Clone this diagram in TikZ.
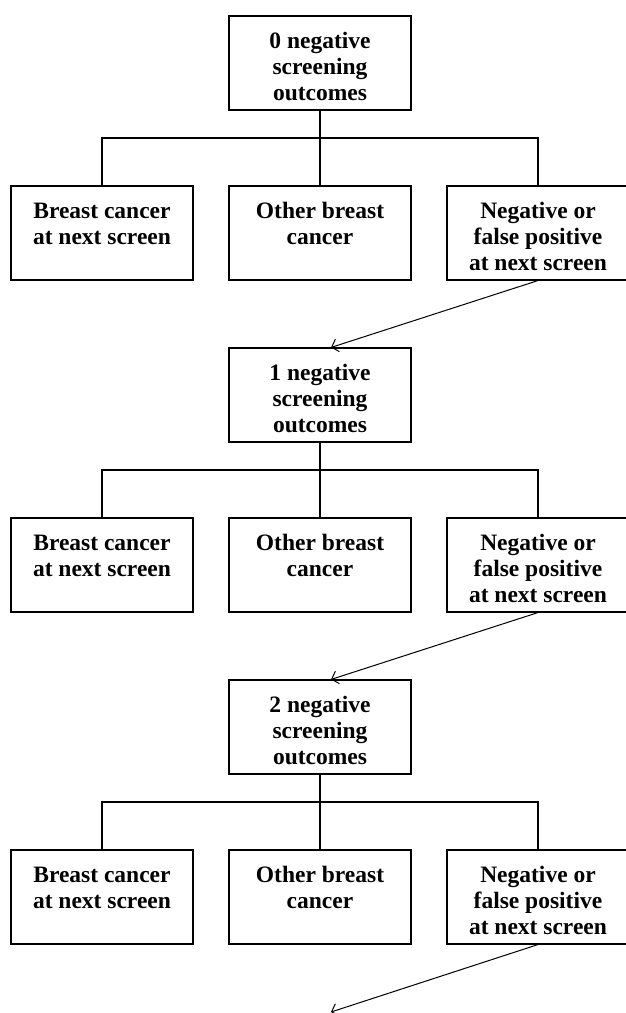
\documentclass[tikz,border=0pt]{standalone}
\usepackage{fontspec}
\setmainfont{Liberation Serif}
\usetikzlibrary{arrows.meta}
\newcommand{\boxtext}[1]{\parbox[c][94pt][t]{180pt}{\centering\rule{0pt}{32pt}#1}}

\begin{document}
\begin{tikzpicture}[
  x=1pt,
  y=-1pt,
  stage/.style={rectangle,draw=black,line width=1.1pt,minimum width=182pt,minimum height=94pt,inner sep=0pt,font=\fontsize{23.5}{26}\selectfont\bfseries},
  link/.style={draw=black,line width=1.1pt},
  next/.style={-{Straight Barb[length=6pt,width=13pt]},draw=black,line width=1pt}
]
  \useasboundingbox (0,0) rectangle (626,1013);
  \foreach \k in {0,1,2} {
    \pgfmathsetmacro{\dy}{332*\k}
    \node[stage] (n\k) at (320,63+\dy) {\boxtext{\k{} negative\\screening\\outcomes}};
    \coordinate (j\k) at (320,138+\dy);
    \node[stage] (a\k) at (102,233+\dy) {\boxtext{Breast cancer\\at next screen}};
    \node[stage] (b\k) at (320,233+\dy) {\boxtext{Other breast\\cancer}};
    \node[stage] (c\k) at (538,233+\dy) {\boxtext{Negative or\\false positive\\at next screen}};
    \draw[link] (n\k) -- (b\k);
    \draw[link] (a\k.north) |- (j\k) -| (c\k.north);
  }
  \coordinate (more) at (331,1012);
  \draw[next] (c0.south) -- ([xshift=11pt]n1.north);
  \draw[next] (c1.south) -- ([xshift=11pt]n2.north);
  \draw[next] (c2.south) -- (more);
\end{tikzpicture}
\end{document}
